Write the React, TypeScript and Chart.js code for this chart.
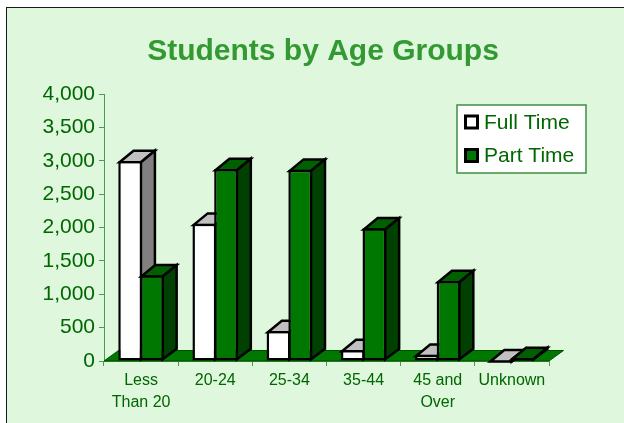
import React, { useEffect, useRef } from "react";
import { Chart, registerables } from "chart.js";

Chart.register(...registerables);

const categories = [["Less", "Than 20"], "20-24", "25-34", "35-44", ["45 and", "Over"], "Unknown"];
const fullTime = [3000, 2060, 450, 165, 95, 10];
const partTime = [1285, 2880, 2870, 1990, 1200, 45];

const TEXT = "#006600";
const AXIS = "#4c9a4c";
const BG = "#dff7dd";
const DX = 14.5;
const DY = 10.5;
const BAR_DX = 14;
const BAR_DY = 11.5;
const BAR_LW = 2.5;
const FONT = "'Liberation Sans', Arial, sans-serif";

const faces: Record<string, { top: string; side: string }> = {
  "Full Time": { top: "#c0c0c0", side: "#808080" },
  "Part Time": { top: "#006000", side: "#004000" },
};

const poly = (ctx: CanvasRenderingContext2D, pts: number[][], fill: string, stroke: string, lw: number) => {
  ctx.beginPath();
  pts.forEach(([x, y], i) => (i ? ctx.lineTo(x, y) : ctx.moveTo(x, y)));
  ctx.closePath();
  ctx.fillStyle = fill;
  ctx.fill();
  if (lw > 0) {
    ctx.lineWidth = lw;
    ctx.strokeStyle = stroke;
    ctx.lineJoin = "miter";
    ctx.stroke();
  }
};

const framePlugin = {
  id: "frame",
  afterLayout(chart: any) {
    chart.titleBlock.left = 22;
    chart.titleBlock.right = 624;
  },
  beforeDraw(chart: any) {
    const { ctx, width, height } = chart;
    ctx.save();
    ctx.fillStyle = "#ffffff";
    ctx.fillRect(0, 0, width, height);
    ctx.fillStyle = BG;
    ctx.fillRect(6, 7, width - 6, height - 7);
    ctx.fillStyle = "#1a1a1a";
    ctx.fillRect(6, 7, width - 6, 1);
    ctx.fillRect(6, 7, 1, height - 7);
    ctx.restore();
  },
  // Draws the floor, then each series back to front: Full Time first, with its
  // depth faces from the bar elements' own geometry, so Part Time overlaps it.
  beforeDatasetsDraw(chart: any) {
    const { ctx, chartArea: a } = chart;
    ctx.save();
    poly(
      ctx,
      [[a.left, a.bottom], [a.right, a.bottom], [a.right + DX, a.bottom - DY], [a.left + DX, a.bottom - DY]],
      "#007700",
      "#005000",
      1
    );
    chart.data.datasets.forEach((ds: any, index: number) => {
      const meta = chart.getDatasetMeta(index);
      const c = faces[ds.label];
      meta.data.forEach((el: any) => {
        const { x, y, base, width } = el.getProps(["x", "y", "base", "width"], true);
        const inset = BAR_LW / 2;
        const l = x - width / 2 + inset;
        const r = x + width / 2 - inset;
        const t = y + inset;
        const b = base - inset;
        poly(ctx, [[l, t], [r, t], [r + BAR_DX, t - BAR_DY], [l + BAR_DX, t - BAR_DY]], c.top, "#000000", BAR_LW);
        poly(ctx, [[r, t], [r + BAR_DX, t - BAR_DY], [r + BAR_DX, b - BAR_DY + 1], [r, b]], c.side, "#000000", BAR_LW);
      });
      meta.controller.draw();
    });
    ctx.restore();
    return false;
  },
  afterDraw(chart: any) {
    const { ctx } = chart;
    ctx.save();
    ctx.fillStyle = "#ffffff";
    ctx.fillRect(457, 105, 129, 68);
    ctx.strokeStyle = "#3f8f3f";
    ctx.lineWidth = 1.5;
    ctx.strokeRect(457, 105, 129, 68);
    chart.data.datasets.forEach((ds: any, i: number) => {
      const cy = 122 + i * 33.5;
      ctx.fillStyle = ds.backgroundColor;
      ctx.fillRect(465.5, cy - 6, 12, 12);
      ctx.strokeStyle = "#000000";
      ctx.lineWidth = 3;
      ctx.strokeRect(465.5, cy - 6, 12, 12);
      ctx.fillStyle = TEXT;
      ctx.font = `21px ${FONT}`;
      ctx.textBaseline = "middle";
      ctx.textAlign = "left";
      ctx.fillText(ds.label, 484, cy + 1);
    });
    ctx.restore();
  },
};

export default function App() {
  const ref = useRef<HTMLCanvasElement>(null);
  useEffect(() => {
    const chart = new Chart(ref.current!, {
      type: "bar",
      data: {
        labels: categories as any,
        datasets: [
          {
            label: "Full Time",
            data: fullTime,
            backgroundColor: "#ffffff",
            borderColor: "#000000",
            borderWidth: BAR_LW,
            borderSkipped: false,
            clip: false,
          },
          {
            label: "Part Time",
            data: partTime,
            backgroundColor: "#007700",
            borderColor: "#000000",
            borderWidth: BAR_LW,
            borderSkipped: false,
            clip: false,
          },
        ] as any,
      },
      options: {
        animation: false,
        responsive: false,
        layout: { padding: { left: 0, top: 34, right: 75, bottom: 0 } },
        datasets: { bar: { categoryPercentage: 0.586, barPercentage: 1.1 } },
        plugins: {
          legend: { display: false },
          tooltip: { enabled: false },
          title: {
            display: true,
            text: "Students by Age Groups",
            color: "#339933",
            font: { family: FONT, size: 30, weight: "bold", lineHeight: 1.2 },
            padding: { top: 0, bottom: 24.3 },
          },
        },
        scales: {
          x: {
            afterFit: (s: any) => {
              s.height = 62;
            },
            border: { color: AXIS, width: 1 },
            grid: { drawOnChartArea: false, drawTicks: true, tickLength: 5, color: AXIS, offset: true },
            ticks: {
              color: TEXT,
              font: { family: FONT, size: 16, lineHeight: 1.4 },
              maxRotation: 0,
              autoSkip: false,
              padding: 3,
            },
          },
          y: {
            min: 0,
            max: 4000,
            afterFit: (s: any) => {
              s.width = 104;
            },
            border: { color: AXIS, width: 1 },
            grid: { drawOnChartArea: false, drawTicks: true, tickLength: 5, color: AXIS },
            ticks: {
              stepSize: 500,
              color: TEXT,
              font: { family: FONT, size: 21 },
              padding: 4,
              callback: (v: any) => Number(v).toLocaleString("en-US"),
            },
          },
        },
      } as any,
      plugins: [framePlugin],
    });
    return () => chart.destroy();
  }, []);
  return (
    <div style={{ position: "fixed", left: 0, top: 0, width: 624, height: 423 }}>
      <canvas ref={ref} width={624} height={423} style={{ display: "block" }} />
    </div>
  );
}
